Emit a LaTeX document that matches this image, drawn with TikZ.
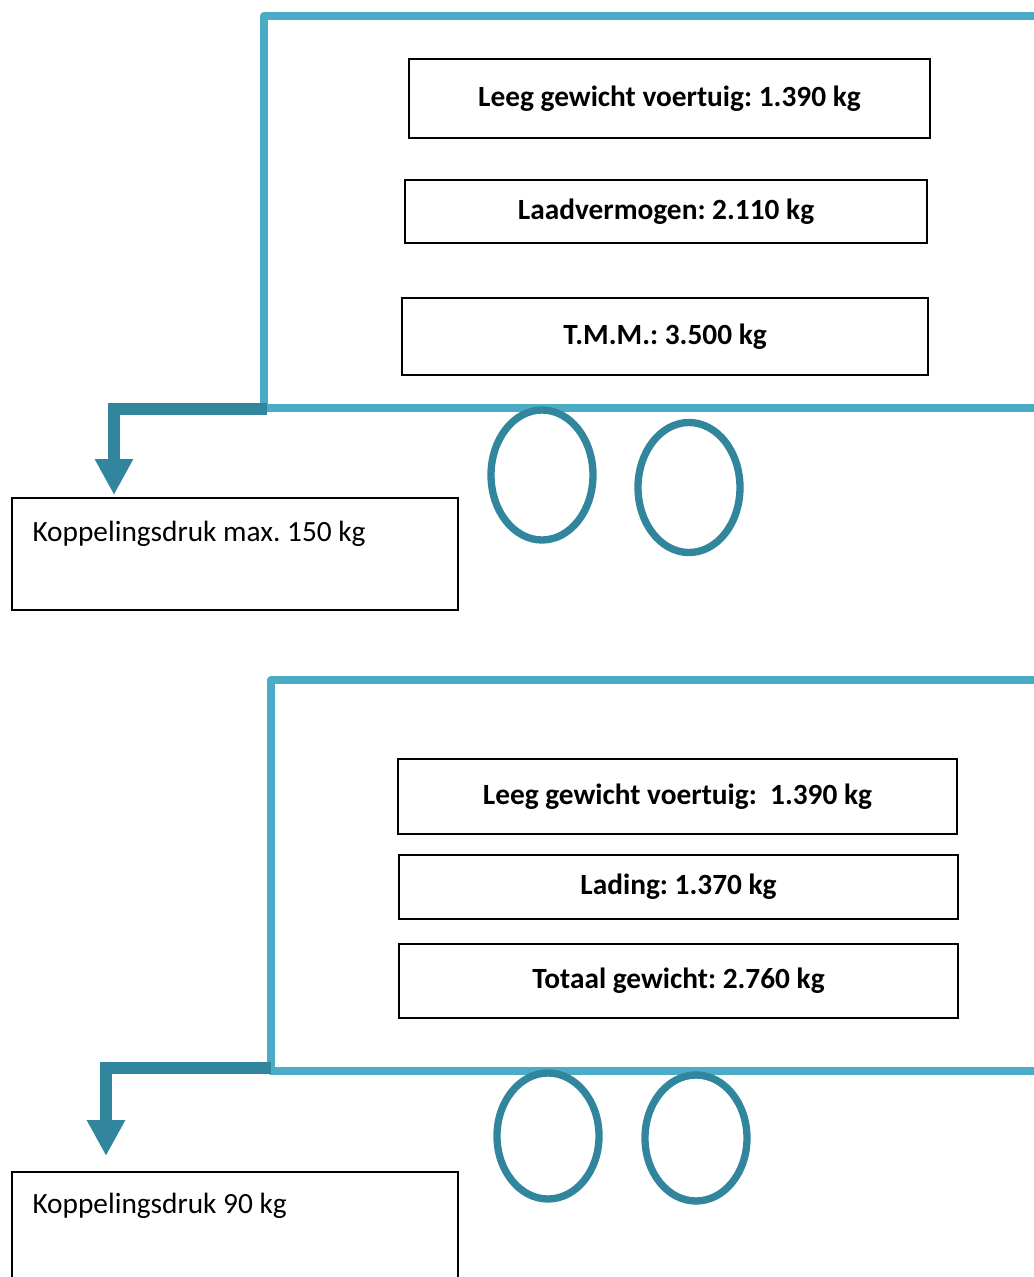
\documentclass[tikz,border=0pt]{standalone}
\usepackage{fontspec}
\setmainfont{Carlito}
\usetikzlibrary{arrows.meta}
\definecolor{frameblue}{RGB}{75,172,198}
\definecolor{hitchteal}{RGB}{49,133,156}
\tikzset{every picture/.style={line width=0.75pt}}
\frenchspacing

\begin{document}
\begin{tikzpicture}[x=0.75pt,y=0.75pt,yscale=-1,xscale=1,
  trailerframe/.style={draw=frameblue,line width=6pt,line join=round},
  wheel/.style={draw=hitchteal,line width=5.5pt},
  hitchbar/.style={draw=hitchteal,line width=9.4pt,-{Triangle[length=27pt,width=27pt]}},
  weightbox/.style={draw=black,line width=1.5pt,inner sep=0pt,font=\fontsize{22}{26}\selectfont\bfseries},
  kopbox/.style={draw=black,line width=1.5pt,inner sep=0pt,minimum width=334.5pt},
  koptext/.style={anchor=base west,inner sep=0pt,font=\fontsize{22}{26}\selectfont}]
\useasboundingbox (0,0) rectangle (1033,1277);

%Straight Lines: upper trailer
\draw[trailerframe] (1045,16) -- (264,16) -- (264,408) -- (1045,408) ;
%Shape: Ellipse
\draw[wheel] (542,475) ellipse [x radius=51,y radius=65] ;
%Shape: Ellipse
\draw[wheel] (689,487.5) ellipse [x radius=51,y radius=65] ;

% Text Node
\node[weightbox,minimum width=390.75pt,minimum height=59.25pt] (leegA) at (669.5,98.5) {Leeg gewicht voertuig: 1.390 kg};
% Text Node
\node[weightbox,minimum width=391.5pt,minimum height=47.25pt] (laad) at (666,211.5) {Laadvermogen: 2.110 kg};
% Text Node
\node[weightbox,minimum width=394.5pt,minimum height=57.75pt] (tmm) at (665,336.5) {T.M.M.: 3.500 kg};

% Text Node
\node[kopbox,minimum height=84pt] (kopA) at (235,554) {};
\node[koptext] (kopAtext) at ([shift={(21,44)}]kopA.north west) {Koppelingsdruk max. 150 kg};

%Straight Lines: hitch arrow
\coordinate (hitchA) at (267,409);
\coordinate (tipA) at (114,495);
\draw[hitchbar] (hitchA) -| (tipA) ;

%Straight Lines: lower trailer
\draw[trailerframe] (1045,680) -- (271,680) -- (271,1071) -- (1045,1071) ;
%Shape: Ellipse
\draw[wheel] (548,1136) ellipse [x radius=51,y radius=63] ;
%Shape: Ellipse
\draw[wheel] (696,1138) ellipse [x radius=51,y radius=63] ;

% Text Node
\node[weightbox,minimum width=419.25pt,minimum height=56.25pt] (leegB) at (677.5,796.5) {Leeg gewicht voertuig:\ \ 1.390 kg};
% Text Node
\node[weightbox,minimum width=419.25pt,minimum height=48pt] (lading) at (678.5,887) {Lading: 1.370 kg};
% Text Node
\node[weightbox,minimum width=419.25pt,minimum height=55.5pt] (totaal) at (678.5,981) {Totaal gewicht: 2.760 kg};

% Text Node
\node[kopbox,minimum height=88.5pt] (kopB) at (235,1231) {};
\node[koptext] (kopBtext) at ([shift={(21,42)}]kopB.north west) {Koppelingsdruk 90 kg};

%Straight Lines: hitch arrow
\coordinate (hitchB) at (271,1068);
\coordinate (tipB) at (106,1156);
\draw[hitchbar] (hitchB) -| (tipB) ;

\end{tikzpicture}
\end{document}
